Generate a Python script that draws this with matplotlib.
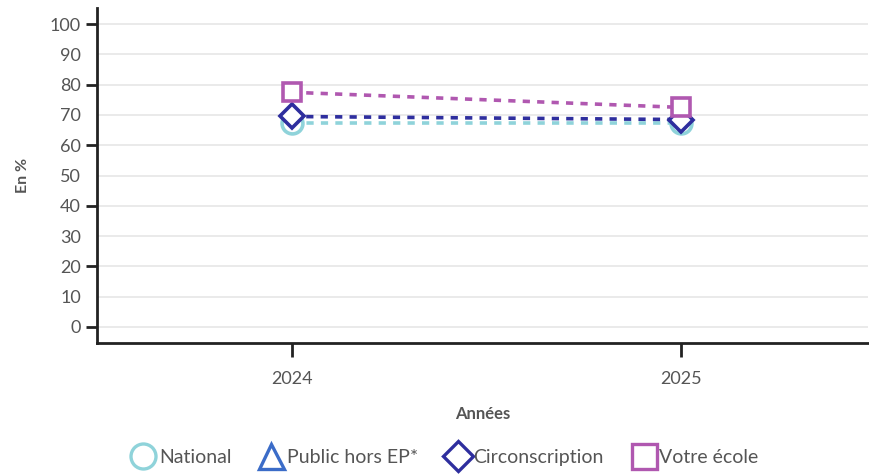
import matplotlib
matplotlib.use("Agg")
import matplotlib.pyplot as plt
from matplotlib.lines import Line2D
import numpy as np

years = [2024, 2025]
series_names = ["National", "Public hors EP*", "Circonscription", "Votre école"]
national = [67.5, 67.5]
public_hors_ep = [np.nan, np.nan]
circonscription = [69.5, 68.5]
votre_ecole = [77.5, 72.5]
y_labels = [0, 10, 20, 30, 40, 50, 60, 70, 80, 90, 100]

colors = ["#8fd3da", "#3b6cc8", "#2e2e9e", "#b058b0"]
markers = ["o", "^", "D", "s"]
msizes = [15, 15, 12, 13]
values = [national, public_hors_ep, circonscription, votre_ecole]

plt.rcParams['font.family'] = ['Lato', 'DejaVu Sans']
txt = "#555555"

fig = plt.figure(figsize=(8.7, 4.76), dpi=100)
ax = fig.add_axes([0.1115, 0.2794, 0.8865, 0.7036])

for i, (name, vals) in enumerate(zip(series_names, values)):
    ax.plot(years, vals, color=colors[i], lw=2.6, linestyle=(0, (2, 2)),
            marker=markers[i], markersize=msizes[i], markerfacecolor="white",
            markeredgecolor=colors[i], markeredgewidth=2.6, zorder=3 + i)

ax.set_xlim(2023.5, 2025.48)
ax.set_ylim(-5.3, 105.3)
ax.set_xticks(years)
ax.set_xticklabels([str(y) for y in years])
ax.set_yticks(y_labels)
ax.set_yticklabels([str(v) for v in y_labels])
ax.grid(axis='y', color="#e6e6e6", lw=1.2)
ax.set_axisbelow(True)
for s in ["top", "right"]:
    ax.spines[s].set_visible(False)
for s in ["left", "bottom"]:
    ax.spines[s].set_linewidth(2)
    ax.spines[s].set_color("#222222")
ax.tick_params(axis='both', colors="#222222", labelcolor=txt, labelsize=13, width=2, length=8)
ax.tick_params(axis='x', pad=10, length=10)
for v, t in zip(y_labels, ax.yaxis.get_major_ticks()):
    if v % 20 != 0:
        t.tick1line.set_visible(False)

ax.set_ylabel("En %", fontsize=11.5, fontweight='bold', color=txt, labelpad=14)
ax.set_xlabel("Années", fontsize=12, fontweight='bold', color=txt, labelpad=14)

handles = [Line2D([], [], color=colors[i], lw=0, marker=markers[i], markersize=18 if i != 2 else 15,
                  markerfacecolor="white", markeredgecolor=colors[i], markeredgewidth=2.4)
           for i in range(4)]
fig.legend(handles, series_names, loc="lower center", bbox_to_anchor=(0.511, -0.015), ncol=4,
           frameon=False, fontsize=14, labelcolor=txt, handletextpad=0.15, columnspacing=1.4,
           handlelength=1.3)

fig.savefig("out.png", dpi=100)
